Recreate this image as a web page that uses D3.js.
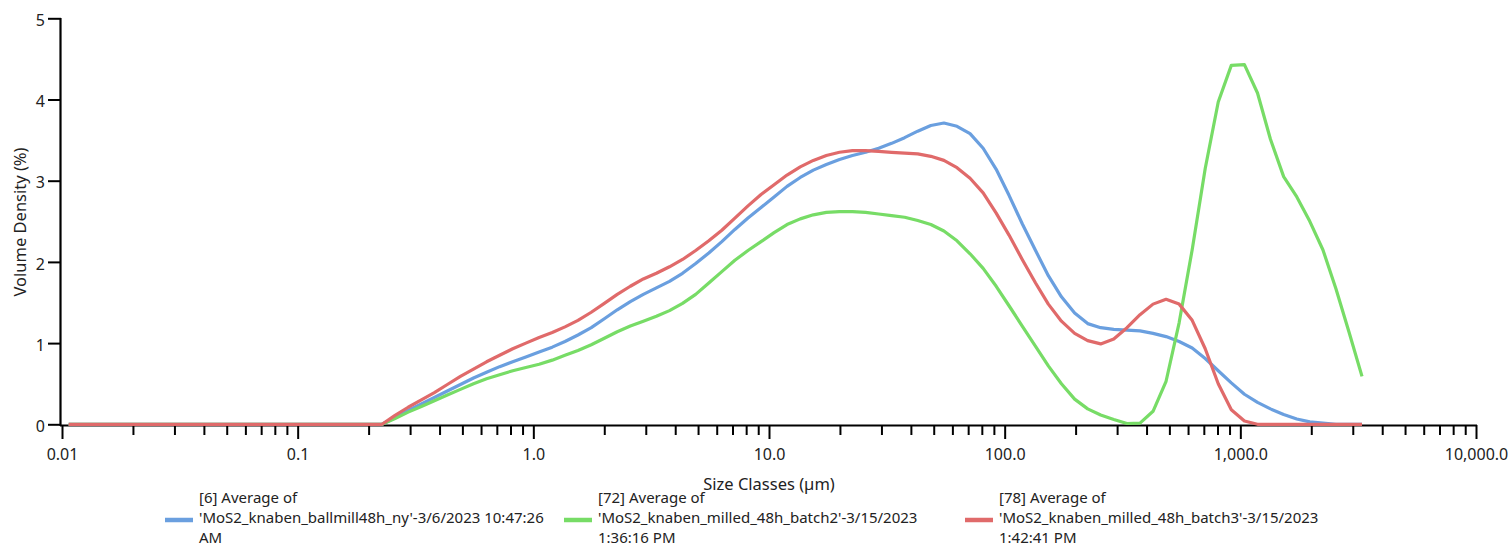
<!DOCTYPE html>
<html><head><meta charset="utf-8">
<script src="https://cdn.jsdelivr.net/npm/d3@7"></script>
<style>
html,body{margin:0;padding:0;background:#fff;}
svg{display:block;font-family:'Noto Sans',sans-serif;}
</style>
</head><body>
<svg id="chart" width="1512" height="548"></svg>
<script>
// ---- Data ----
const sizeClassEdges = [
 0.01,0.0114,0.0129,0.0147,0.0167,0.0189,0.0215,0.0244,0.0278,0.0315,
 0.0358,0.0407,0.0463,0.0526,0.0597,0.0679,0.0771,0.0876,0.0995,0.113,
 0.128,0.146,0.166,0.188,0.214,0.243,0.276,0.314,0.357,0.405,
 0.46,0.523,0.594,0.675,0.767,0.872,0.991,1.13,1.28,1.45,
 1.65,1.88,2.13,2.42,2.75,3.12,3.55,4.03,4.58,5.21,
 5.92,6.72,7.64,8.68,9.86,11.2,12.7,14.5,16.4,18.7,
 21.2,24.1,27.4,31.1,35.3,40.1,45.6,51.8,58.9,66.9,
 76,86.4,98.1,111,127,144,163,186,211,240,
 272,310,352,400,454,516,586,666,756,859,
 976,1110,1260,1430,1630,1850,2100,2390,2710,3080,
 3500];

const seriesNames = [
 ["[6] Average of", "'MoS2_knaben_ballmill48h_ny'-3/6/2023 10:47:26", "AM"],
 ["[72] Average of", "'MoS2_knaben_milled_48h_batch2'-3/15/2023", "1:36:16 PM"],
 ["[78] Average of", "'MoS2_knaben_milled_48h_batch3'-3/15/2023", "1:42:41 PM"]
];

const ballmill48hValues = [
 0,0,0,0,0,0,0,0,0,0, 0,0,0,0,0,0,0,0,0,0, 0,0,0,0,0,
 0.08,0.17,0.25,0.33,0.41,0.49,0.57,0.64,0.71,0.77,
 0.83,0.89,0.95,1.02,1.10,1.19,1.30,1.41,1.51,1.60,
 1.68,1.76,1.86,1.98,2.11,2.25,2.40,2.54,2.67,2.80,
 2.93,3.04,3.13,3.20,3.26,3.31,3.35,3.40,3.46,3.53,
 3.61,3.68,3.71,3.67,3.58,3.40,3.14,2.82,2.47,2.14,
 1.83,1.57,1.37,1.24,1.19,1.17,1.16,1.15,1.12,1.08,
 1.02,0.94,0.81,0.66,0.51,0.37,0.27,0.19,0.12,0.065,
 0.03,0.015,0,0,0];

const batch2Values = [
 0,0,0,0,0,0,0,0,0,0, 0,0,0,0,0,0,0,0,0,0, 0,0,0,0,0,
 0.07,0.15,0.22,0.29,0.36,0.43,0.50,0.56,0.61,0.66,
 0.70,0.74,0.79,0.85,0.91,0.98,1.06,1.14,1.21,1.27,
 1.33,1.40,1.49,1.60,1.74,1.88,2.02,2.14,2.25,2.36,
 2.46,2.53,2.58,2.61,2.62,2.62,2.61,2.59,2.57,2.55,
 2.51,2.46,2.38,2.26,2.10,1.92,1.70,1.46,1.21,0.96,
 0.72,0.50,0.31,0.19,0.115,0.06,0.01,0.015,0.16,0.53,
 1.25,2.15,3.15,3.97,4.42,4.43,4.08,3.51,3.05,2.80,
 2.50,2.15,1.67,1.14,0.59];

const batch3Values = [
 0,0,0,0,0,0,0,0,0,0, 0,0,0,0,0,0,0,0,0,0, 0,0,0,0,0,
 0.11,0.21,0.30,0.39,0.49,0.59,0.68,0.77,0.85,0.93,
 1.00,1.07,1.13,1.20,1.28,1.38,1.49,1.60,1.70,1.79,
 1.86,1.94,2.03,2.14,2.26,2.39,2.54,2.69,2.83,2.95,
 3.07,3.17,3.25,3.31,3.35,3.37,3.37,3.36,3.35,3.34,
 3.33,3.30,3.25,3.16,3.03,2.85,2.60,2.33,2.03,1.74,
 1.48,1.27,1.12,1.03,0.99,1.05,1.19,1.35,1.48,1.54,
 1.48,1.28,0.93,0.50,0.18,0.04,0,0,0,0,
 0,0,0,0,0];

const xTickValues = [0.01, 0.1, 1, 10, 100, 1000, 10000];
const xTickLabels = ["0.01", "0.1", "1.0", "10.0", "100.0", "1,000.0", "10,000.0"];
const xMinorMultipliers = [2,3,4,5,6,7,8,9];
const yTickValues = [0, 1, 2, 3, 4, 5];
const xAxisTitle = "Size Classes (µm)";
const yAxisTitle = "Volume Density (%)";

const seriesColors = ["#6a9fdf", "#77dc66", "#e06a6a"];

// ---- Build ----
const sizeMidpoints = d3.range(sizeClassEdges.length - 1)
  .map(i => Math.sqrt(sizeClassEdges[i] * sizeClassEdges[i + 1]));
const allSeries = [ballmill48hValues, batch2Values, batch3Values].map((vals, k) => ({
  name: seriesNames[k],
  color: seriesColors[k],
  points: vals.map((v, i) => ({ size: sizeMidpoints[i], v }))
}));

const svg = d3.select("#chart");
const x = d3.scaleLog().domain([0.01, 10000]).range([62, 1476]);
const y = d3.scaleLinear().domain([0, 5]).range([424.3, 18.3]);

// minor ticks
const minorTicks = [];
xTickValues.slice(0, -1).forEach(t => xMinorMultipliers.forEach(m => minorTicks.push(+(t * m).toPrecision(6))));

const gxMinor = svg.append("g").attr("transform", "translate(0,425)")
  .call(d3.axisBottom(x).tickValues(minorTicks).tickSize(10).tickSizeOuter(0).tickFormat(""));
gxMinor.select(".domain").remove();
gxMinor.selectAll(".tick line").attr("stroke", "#000").attr("stroke-width", 2);

const gx = svg.append("g").attr("transform", "translate(0,425)")
  .call(d3.axisBottom(x).tickValues(xTickValues).tickSize(14).tickSizeOuter(0).tickPadding(10)
    .tickFormat((d, i) => xTickLabels[i]));
gx.select(".domain").attr("stroke", "#000").attr("stroke-width", 2.2).attr("d", "M60,0.5H1477");
gx.selectAll(".tick line").attr("stroke", "#000").attr("stroke-width", 2);
gx.selectAll(".tick text").attr("font-size", 16).attr("font-family", "'Noto Sans',sans-serif").attr("fill", "#222");

const gy = svg.append("g").attr("transform", "translate(61,0)")
  .call(d3.axisLeft(y).tickValues(yTickValues).tickSize(13).tickSizeOuter(0).tickPadding(3)
    .tickFormat(d3.format("d")));
gy.select(".domain").attr("stroke", "#000").attr("stroke-width", 2.2).attr("d", "M-0.5,18V426");
gy.selectAll(".tick line").attr("stroke", "#000").attr("stroke-width", 2);
gy.selectAll(".tick text").attr("font-size", 16).attr("font-family", "'Noto Sans',sans-serif")
  .attr("fill", "#222").attr("dy", "0.45em");

// axis titles
svg.append("text").attr("x", 769).attr("y", 490).attr("text-anchor", "middle")
  .attr("font-size", 16.5).attr("fill", "#222").text(xAxisTitle);
svg.append("text").attr("transform", "translate(26,222) rotate(-90)").attr("text-anchor", "middle")
  .attr("font-size", 16.5).attr("fill", "#222").text(yAxisTitle);

// lines
const line = d3.line().x(d => x(d.size)).y(d => y(d.v));
svg.append("g").selectAll("path").data(allSeries).join("path")
  .attr("d", d => line(d.points))
  .attr("fill", "none")
  .attr("stroke", d => d.color)
  .attr("stroke-width", 3.2)
  .attr("stroke-linejoin", "round");

// legend
const legendX = [165, 564, 965];
const legend = svg.append("g");
allSeries.forEach((s, k) => {
  const g = legend.append("g").attr("transform", `translate(${legendX[k]},0)`);
  g.append("line").attr("x1", 0).attr("x2", 28).attr("y1", 520).attr("y2", 520)
    .attr("stroke", s.color).attr("stroke-width", 4.5);
  s.name.forEach((t, j) => {
    g.append("text").attr("x", 34).attr("y", 503 + j * 20)
      .attr("font-size", 15).attr("fill", "#222").text(t);
  });
});
</script>
</body></html>
